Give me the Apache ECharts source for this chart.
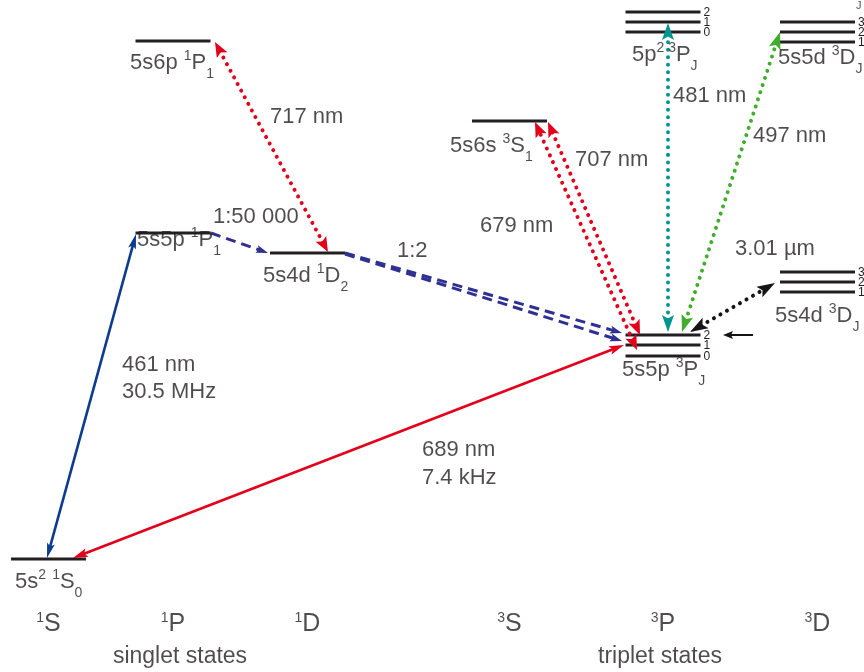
<!DOCTYPE html>
<html><head><meta charset="utf-8">
<script src="https://cdn.jsdelivr.net/npm/echarts@6/dist/echarts.min.js"></script>
<style>html,body{margin:0;padding:0;background:#fff}#c{width:864px;height:672px}</style>
</head><body><div id="c"></div>
<script>
// ---- Term columns ----
const columnLabels = ['{sup|1}S', '{sup|1}P', '{sup|1}D', '{sup|3}S', '{sup|3}P', '{sup|3}D'];
const columnX = [48.5, 173, 307.5, 509.5, 663, 817.5];
const groupLabels = ['singlet states', 'triplet states'];
const groupX = [180, 660];
const groupE = [-98, -98];
const columnE = [-65, -65, -65, -65, -65, -65];

// ---- Energy levels (diagram energy units, ground state = 0) ----
const levelColumn = [0, 1, 1, 2, 3, 4, 4, 4, 4, 4, 4, 5, 5, 5, 5, 5, 5];
const levelEnergy = [0, 326, 518, 306, 438, 203, 214, 224, 527, 537, 547, 267, 277, 287, 517, 527, 537];
const levelJ = ['', '', '', '', '', '0', '1', '2', '0', '1', '2', '1', '2', '3', '1', '2', '3'];

// ---- State names ----
const stateNames = ['5s{sup|2} {sup|1}S{sub|0}', '5s5p {sup|1}P{sub|1}', '5s6p {sup|1}P{sub|1}', '5s4d {sup|1}D{sub|2}',
  '5s6s {sup|3}S{sub|1}', '5s5p {sup|3}P{sub|J}', '5p{sup|2 3}P{sub|J}', '5s4d {sup|3}D{sub|J}', '5s5d {sup|3}D{sub|J}', '{tiny|J}'];
const stateNameX = [15, 137, 130, 263, 450, 622, 632, 775, 778, 856];
const stateNameE = [-23, 319, 496, 283, 413, 189, 504, 243, 501, 553];

// ---- Transitions: start [x, E] and end [x, E] ----
const transNames = ['461 nm', '689 nm', '1:50 000', '717 nm', '1:2 a', '1:2 b', '679 nm', '707 nm', '481 nm', '497 nm', '3.01 µm', 'pointer'];
const transFromX = [47, 73, 211, 328, 345, 345, 637, 640, 668, 682, 690, 753];
const transFromE = [1, 1, 326, 307, 306, 305, 209, 224, 227, 227, 227, 224];
const transToX = [136, 624, 268, 215, 622, 622, 535, 548, 668, 780, 775, 723];
const transToE = [325, 214, 306, 517, 226, 218, 437, 437, 536, 527, 276, 224];

// ---- Annotation texts ----
const noteTexts = ['717 nm', '1:50 000', '1:2', '461 nm', '30.5 MHz', '689 nm', '7.4 kHz', '679 nm', '707 nm', '481 nm', '497 nm', '3.01 µm'];
const noteX = [270, 213, 397, 122, 122, 422, 422, 480, 575, 673, 753, 735];
const noteE = [442, 342, 308, 194, 167, 109, 81, 333, 399, 463, 423, 310];

// ---------------- styling ----------------
const FONT = 'Liberation Sans, Arial, sans-serif';
const TXT = '#231f20';
const RED = '#e2001a', BLUE = '#0d3b8e', NAVY = '#2e3192', TEAL = '#00968f', GREEN = '#3fae2a', BLACK = '#151515';
const dotted = {lineDash: [0.01, 7.5], lineWidth: 4, lineCap: 'round'};
const dashed = {lineDash: [10, 6], lineWidth: 3, lineCap: 'butt'};
const solid = {lineDash: null, lineWidth: 2.6, lineCap: 'butt'};
const transStyle = {
  '461 nm': Object.assign({color: BLUE, both: true, hl: 15, hw: 8}, solid),
  '689 nm': Object.assign({color: RED, both: true, hl: 15, hw: 9}, solid),
  '1:50 000': Object.assign({color: NAVY, both: false, hl: 12, hw: 8}, dashed),
  '717 nm': Object.assign({color: RED, both: true, hl: 15, hw: 12}, dotted),
  '1:2 a': Object.assign({color: NAVY, both: false, hl: 12, hw: 8}, dashed),
  '1:2 b': Object.assign({color: NAVY, both: false, hl: 12, hw: 8}, dashed),
  '679 nm': Object.assign({color: RED, both: true, hl: 15, hw: 12}, dotted),
  '707 nm': Object.assign({color: RED, both: true, hl: 15, hw: 12}, dotted),
  '481 nm': Object.assign({color: TEAL, both: true, hl: 17, hw: 12}, dotted),
  '497 nm': Object.assign({color: GREEN, both: true, hl: 17, hw: 12}, dotted),
  '3.01 µm': Object.assign({color: BLACK, both: true, hl: 18, hw: 12}, dotted),
  'pointer': Object.assign({color: BLACK, both: false, hl: 10, hw: 8}, solid, {lineWidth: 2})
};

const richMain = {
  sup: {fontSize: 14, lineHeight: 14, verticalAlign: 'top', padding: [4, 0, 0, 0], fontFamily: FONT, color: TXT},
  sub: {fontSize: 14, lineHeight: 14, verticalAlign: 'bottom', fontFamily: FONT, color: TXT},
  tiny: {fontSize: 11, lineHeight: 11, fontFamily: FONT, color: TXT}
};
const richBottom = {
  sup: {fontSize: 14, lineHeight: 14, verticalAlign: 'top', padding: [2, 0, 0, 0], fontFamily: FONT, color: TXT}
};

const chart = echarts.init(document.getElementById('c'), null, {renderer: 'canvas'});

function head(tip, ux, uy, L, W, color) {
  const bx = tip[0] - ux * L, by = tip[1] - uy * L;
  const nx = -uy, ny = ux;
  const nxp = tip[0] - ux * L * 0.8, nyp = tip[1] - uy * L * 0.8;
  return {type: 'polygon', shape: {points: [tip, [bx + nx * W / 2, by + ny * W / 2], [nxp, nyp], [bx - nx * W / 2, by - ny * W / 2]]},
    style: {fill: color}};
}

function renderTransition(params, api) {
  const i = params.dataIndex;
  const st = transStyle[transNames[i]];
  const a = api.coord([api.value(0), api.value(1)]);
  const b = api.coord([api.value(2), api.value(3)]);
  const dx = b[0] - a[0], dy = b[1] - a[1];
  const len = Math.hypot(dx, dy);
  const ux = dx / len, uy = dy / len;
  const children = [];
  let s = a, e = [b[0] - ux * st.hl * 0.7, b[1] - uy * st.hl * 0.7];
  if (st.both) s = [a[0] + ux * st.hl * 0.7, a[1] + uy * st.hl * 0.7];
  children.push({type: 'line', shape: {x1: s[0], y1: s[1], x2: e[0], y2: e[1]},
    style: {stroke: st.color, lineWidth: st.lineWidth, lineDash: st.lineDash, lineCap: st.lineCap, fill: null}});
  children.push(head(b, ux, uy, st.hl, st.hw, st.color));
  if (st.both) children.push(head(a, -ux, -uy, st.hl, st.hw, st.color));
  return {type: 'group', children};
}

const HALF = 37.5;
function renderLevel(params, api) {
  const i = params.dataIndex;
  const x = columnX[levelColumn[i]];
  const p1 = api.coord([x - HALF, api.value(1)]);
  const p2 = api.coord([x + HALF, api.value(1)]);
  const ch = [{type: 'line', shape: {x1: p1[0], y1: p1[1], x2: p2[0], y2: p2[1]}, style: {stroke: '#231f20', lineWidth: 3}}];
  if (levelJ[i]) ch.push({type: 'text', x: p2[0] + 3, y: p2[1] + 1,
    style: {text: levelJ[i], fontSize: 12, fontFamily: FONT, fill: TXT, align: 'left', verticalAlign: 'middle'}});
  return {type: 'group', children: ch};
}

const option = {
  animation: false,
  backgroundColor: '#fff',
  grid: {left: 0, right: 0, top: 0, bottom: 0, containLabel: false},
  xAxis: {type: 'value', min: 0, max: 864, show: false},
  yAxis: {type: 'value', min: -113, max: 559, show: false},
  series: [
    {
      type: 'custom', name: 'levels', silent: true,
      data: levelEnergy.map((e, i) => [columnX[levelColumn[i]], e]),
      encode: {x: 0, y: 1},
      renderItem: renderLevel
    },
    {
      type: 'custom', name: 'transitions', silent: true,
      data: transNames.map((n, i) => [transFromX[i], transFromE[i], transToX[i], transToE[i]]),
      encode: {x: [0, 2], y: [1, 3]},
      renderItem: renderTransition
    },
    {
      type: 'scatter', name: 'state names', silent: true, symbolSize: 0,
      data: stateNames.map((t, i) => [stateNameX[i], stateNameE[i], t]),
      label: {show: true, position: 'right', distance: 0, formatter: p => p.data[2],
        fontSize: 22, lineHeight: 36, fontFamily: FONT, color: TXT, rich: richMain}
    },
    {
      type: 'scatter', name: 'notes', silent: true, symbolSize: 0,
      data: noteTexts.map((t, i) => [noteX[i], noteE[i], t]),
      label: {show: true, position: 'right', distance: 0, formatter: p => p.data[2],
        fontSize: 22, fontFamily: FONT, color: TXT}
    },
    {
      type: 'scatter', name: 'columns', silent: true, symbolSize: 0,
      data: columnLabels.map((t, i) => [columnX[i], columnE[i], t]),
      label: {show: true, position: 'inside', formatter: p => p.data[2],
        fontSize: 25, lineHeight: 30, fontFamily: FONT, color: TXT, rich: richBottom}
    },
    {
      type: 'scatter', name: 'groups', silent: true, symbolSize: 0,
      data: groupLabels.map((t, i) => [groupX[i], groupE[i], t]),
      label: {show: true, position: 'inside', formatter: p => p.data[2],
        fontSize: 23, fontFamily: FONT, color: TXT}
    }
  ]
};
chart.setOption(option);
</script>
</body></html>
